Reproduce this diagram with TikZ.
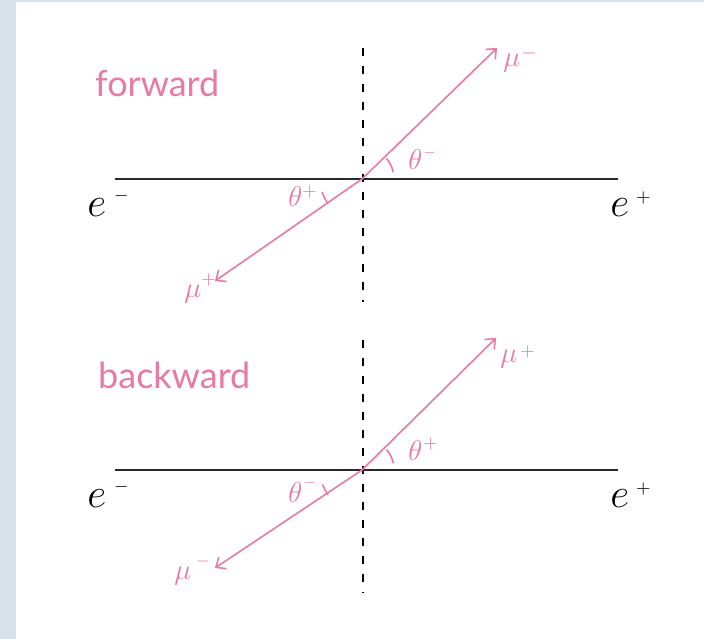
\documentclass[tikz,border=0pt]{standalone}
\usepackage{fontspec}
\setmainfont{Lato}
\usetikzlibrary{arrows.meta}
\definecolor{pinkc}{RGB}{232,122,164}
\definecolor{framec}{RGB}{216,226,234}
\definecolor{axisc}{RGB}{40,40,40}
\begin{document}
\begin{tikzpicture}[x=1pt,y=-1pt,
  word/.style={font=\fontsize{36}{36}\selectfont, text=pinkc, inner sep=0, anchor=base west},
  elbl/.style={font=\fontsize{20}{20}\selectfont, scale=2, text=black, inner sep=0, anchor=base west},
  plbl/.style={font=\fontsize{14}{14}\selectfont, scale=2, text=pinkc, inner sep=0, anchor=base west},
  beam/.style={draw=axisc, line width=2.4pt},
  dashaxis/.style={draw=black, line width=2.2pt, dash pattern=on 8pt off 10pt},
  track/.style={draw=pinkc, line width=1.6pt, -{Straight Barb[length=8pt,width=14pt,line width=1.6pt]}},
  anglemark/.style={draw=pinkc, line width=1.6pt}
]
\useasboundingbox (0,0) rectangle (704,639);
\fill[framec] (0,0) rectangle (704,639);
\fill[white] (16,2) rectangle (704,639);

% ---------- forward ----------
\coordinate (v1) at (362,179);
\coordinate (b1l) at (115,179);
\coordinate (b1r) at (618,179);
\coordinate (d1t) at (363,48);
\coordinate (d1b) at (363,302);
\coordinate (m1a) at (497,48);
\coordinate (m1b) at (215,281);
\draw[dashaxis] (d1t) -- (d1b);
\draw[beam] (b1l) -- (b1r);
\draw[track] (v1) -- (m1a);
\draw[track] (v1) -- (m1b);
\draw[anglemark] (v1) ++(-12:32) arc[start angle=-12, end angle=-40, radius=32];
\draw[anglemark] (v1) ++(162:42) arc[start angle=162, end angle=146, radius=42];

\node[word] (fw) at (95,97) {forward};
\node[elbl] (em1) at (87,217) {$e$\hspace{4pt}\raisebox{8pt}{\fontsize{9}{9}\selectfont$-$}};
\node[elbl] (ep1) at (610,217) {$e$\hspace{3.5pt}\raisebox{7pt}{\fontsize{9}{9}\selectfont$+$}};
\node[plbl] (mu1) at (503,67) {$\mu$\hspace{0.5pt}\raisebox{4pt}{\fontsize{10}{10}\selectfont$-$}};
\node[plbl] (mu2) at (184,297) {$\mu$\raisebox{6pt}{\fontsize{9}{9}\selectfont$+$}};
\node[plbl] (th1) at (408,170) {$\theta$\hspace{0.5pt}\raisebox{6.5pt}{\fontsize{7}{7}\selectfont$-$}};
\node[plbl] (th2) at (288,207) {$\theta$\raisebox{5.5pt}{\fontsize{9}{9}\selectfont$+$}};

% ---------- backward ----------
\coordinate (v2) at (362,470);
\coordinate (b2l) at (115,470);
\coordinate (b2r) at (618,470);
\coordinate (d2t) at (363,340);
\coordinate (d2b) at (363,593);
\coordinate (m2a) at (496,338);
\coordinate (m2b) at (215,568);
\draw[dashaxis] (d2t) -- (d2b);
\draw[beam] (b2l) -- (b2r);
\draw[track] (v2) -- (m2a);
\draw[track] (v2) -- (m2b);
\draw[anglemark] (v2) ++(-12:32) arc[start angle=-12, end angle=-40, radius=32];
\draw[anglemark] (v2) ++(160:42) arc[start angle=160, end angle=144, radius=42];

\node[word] (bw) at (98,388) {backward};
\node[elbl] (em2) at (87,507) {$e$\hspace{4pt}\raisebox{8pt}{\fontsize{9}{9}\selectfont$-$}};
\node[elbl] (ep2) at (610,507) {$e$\hspace{3.5pt}\raisebox{7pt}{\fontsize{9}{9}\selectfont$+$}};
\node[plbl] (mu3) at (500,362) {$\mu$\hspace{1.5pt}\raisebox{3pt}{\fontsize{9}{9}\selectfont$+$}};
\node[plbl] (mu4) at (174,579) {$\mu$\hspace{2.5pt}\raisebox{7pt}{\fontsize{8}{8}\selectfont$-$}};
\node[plbl] (th3) at (408,460) {$\theta$\hspace{0.5pt}\raisebox{6pt}{\fontsize{9}{9}\selectfont$+$}};
\node[plbl] (th4) at (288,502) {$\theta$\hspace{0.5pt}\raisebox{8pt}{\fontsize{7}{7}\selectfont$-$}};
\end{tikzpicture}
\end{document}
